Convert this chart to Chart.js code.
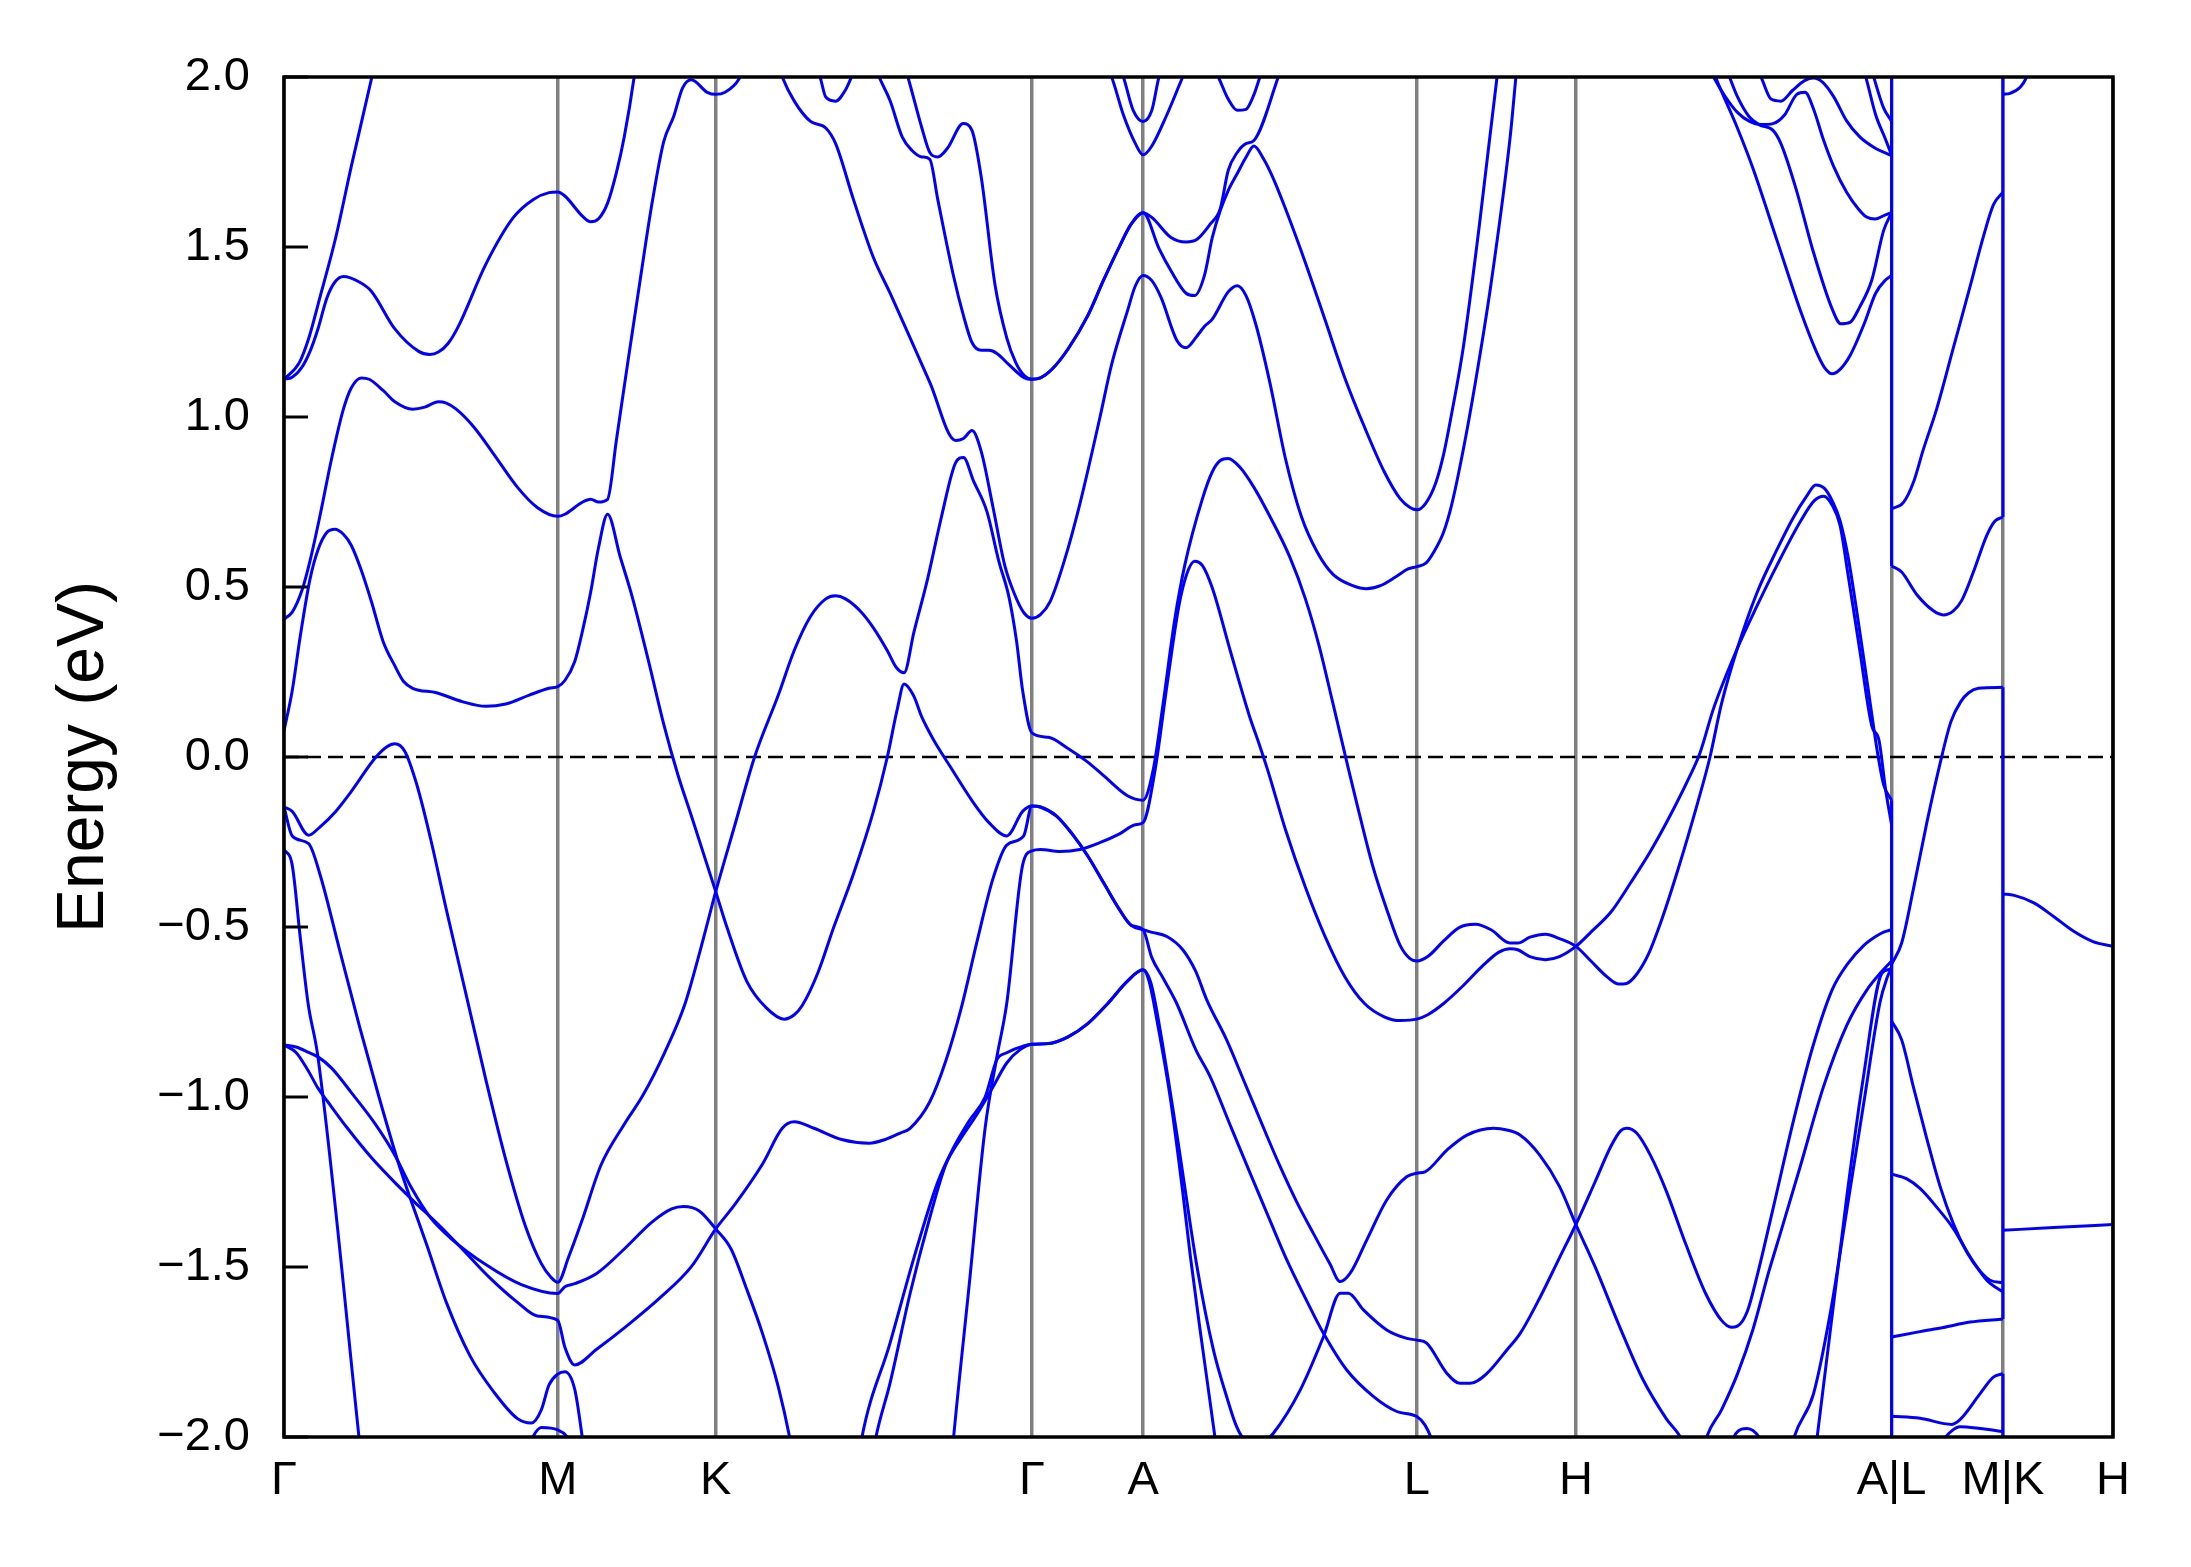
<!DOCTYPE html>
<html>
<head>
<meta charset="utf-8">
<script src="https://cdn.jsdelivr.net/npm/chart.js"></script>
<style>
  html, body { margin: 0; padding: 0; background: #ffffff; }
  canvas { display: block; }
</style>
</head>
<body>
<canvas id="c" width="2191" height="1567"></canvas>
<script>
// ---------- k-path (high-symmetry points) ----------
const kTicks  = [0, 1, 1.577, 2.732, 3.138, 4.138, 4.719, 5.872, 6.279, 6.681];
const kLabels = ['Γ', 'M', 'K', 'Γ', 'A', 'L', 'H', 'A|L', 'M|K', 'H'];
const energyTicks = [-2, -1.5, -1, -0.5, 0, 0.5, 1, 1.5, 2];
const fermiLevel = 0;

// ---------- bands: [k, E(eV)] ----------
const bandSteepGM = [[0,1.111],[0.056,1.160],[0.091,1.233],[0.131,1.351],[0.189,1.528],[0.246,1.738],[0.321,2.0],[0.34,2.07]];
const bandUpperGM = [[0,1.111],[0.030,1.117],[0.066,1.147],[0.095,1.193],[0.124,1.259],[0.157,1.351],[0.186,1.397],[0.217,1.413],[0.275,1.397],[0.319,1.370],[0.405,1.259],[0.492,1.193],[0.532,1.184],[0.564,1.191],[0.600,1.217],[0.636,1.265],[0.737,1.449],[0.838,1.587],[0.911,1.640],[0.968,1.660],[1.0,1.662],[1.026,1.650],[1.091,1.590],[1.120,1.574],[1.149,1.583],[1.182,1.629],[1.214,1.718],[1.243,1.824],[1.279,2.0],[1.29,2.07]];
const bandC = [[0,0.406],[0.030,0.426],[0.066,0.491],[0.095,0.577],[0.131,0.708],[0.174,0.878],[0.217,1.023],[0.246,1.086],[0.282,1.115],[0.311,1.111],[0.362,1.078],[0.405,1.045],[0.470,1.023],[0.514,1.029],[0.564,1.045],[0.593,1.041],[0.629,1.023],[0.694,0.970],[0.766,0.891],[0.853,0.793],[0.925,0.734],[1.0,0.708],[1.026,0.714],[1.091,0.750],[1.120,0.758],[1.149,0.750],[1.182,0.758],[1.214,0.931],[1.257,1.167],[1.301,1.403],[1.344,1.627],[1.387,1.810],[1.423,1.883],[1.456,1.968],[1.488,1.992],[1.546,1.955],[1.577,1.949],[1.611,1.955],[1.662,1.994],[1.69,2.05]];
const bandD = [[0,0.077],[0.030,0.195],[0.059,0.353],[0.095,0.523],[0.124,0.609],[0.157,0.661],[0.186,0.670],[0.217,0.655],[0.246,0.622],[0.282,0.550],[0.319,0.458],[0.362,0.340],[0.405,0.268],[0.437,0.222],[0.470,0.202],[0.557,0.189],[0.651,0.163],[0.737,0.149],[0.810,0.156],[0.896,0.182],[0.968,0.202],[1.0,0.207],[1.026,0.225],[1.062,0.281],[1.091,0.373],[1.120,0.484],[1.149,0.616],[1.182,0.714],[1.228,0.589],[1.272,0.471],[1.330,0.287],[1.387,0.097],[1.438,-0.050],[1.488,-0.173],[1.577,-0.396],[1.618,-0.501],[1.690,-0.659],[1.762,-0.738],[1.827,-0.771],[1.864,-0.758],[1.893,-0.731],[1.951,-0.633],[2.008,-0.501],[2.080,-0.344],[2.153,-0.160],[2.203,-0.003],[2.24,0.14],[2.265,0.215],[2.30,0.18],[2.330,0.117],[2.373,0.05],[2.431,-0.025],[2.518,-0.134],[2.575,-0.193],[2.640,-0.232],[2.698,-0.160],[2.732,-0.144],[2.763,-0.147],[2.821,-0.173],[2.879,-0.226],[2.936,-0.291],[2.994,-0.370],[3.052,-0.449],[3.095,-0.495],[3.138,-0.508],[3.167,-0.515],[3.225,-0.528],[3.283,-0.567],[3.330,-0.630],[3.371,-0.715],[3.442,-0.830],[3.505,-0.950],[3.586,-1.106],[3.639,-1.205],[3.700,-1.310],[3.760,-1.401],[3.820,-1.490],[3.858,-1.543],[3.894,-1.519],[3.955,-1.421],[4.028,-1.303],[4.102,-1.234],[4.138,-1.224],[4.168,-1.220],[4.248,-1.156],[4.321,-1.112],[4.418,-1.092],[4.467,-1.097],[4.515,-1.112],[4.587,-1.171],[4.659,-1.263],[4.719,-1.375],[4.789,-1.499],[4.876,-1.670],[4.962,-1.828],[5.049,-1.946],[5.107,-2.009],[5.13,-2.06]];
const bandTopValence = [[0,-0.147],[0.030,-0.160],[0.090,-0.230],[0.131,-0.206],[0.189,-0.160],[0.246,-0.101],[0.333,-0.003],[0.376,0.030],[0.405,0.039],[0.441,0.017],[0.485,-0.081],[0.535,-0.239],[0.593,-0.449],[0.665,-0.698],[0.737,-0.948],[0.810,-1.184],[0.882,-1.380],[0.940,-1.490],[0.975,-1.530],[1.0,-1.545],[1.04,-1.47],[1.09,-1.36],[1.158,-1.20],[1.243,-1.08],[1.311,-0.995],[1.39,-0.87],[1.464,-0.728],[1.52,-0.57],[1.577,-0.396],[1.647,-0.20],[1.719,0.0],[1.806,0.183],[1.864,0.314],[1.922,0.412],[1.979,0.465],[2.015,0.474],[2.051,0.465],[2.109,0.426],[2.153,0.380],[2.203,0.314],[2.236,0.264],[2.265,0.248],[2.301,0.367],[2.351,0.524],[2.402,0.708],[2.453,0.865],[2.482,0.881],[2.518,0.813],[2.568,0.721],[2.611,0.576],[2.648,0.471],[2.676,0.340],[2.698,0.196],[2.732,0.071],[2.792,0.058],[2.864,0.025],[2.936,-0.015],[2.994,-0.055],[3.081,-0.114],[3.138,-0.127],[3.175,-0.038],[3.211,0.156],[3.254,0.406],[3.290,0.563],[3.355,0.760],[3.391,0.839],[3.420,0.872],[3.449,0.878],[3.492,0.852],[3.543,0.793],[3.601,0.708],[3.673,0.590],[3.731,0.465],[3.781,0.327],[3.832,0.156],[3.889,-0.038],[3.918,-0.134],[3.976,-0.318],[4.034,-0.462],[4.077,-0.554],[4.113,-0.593],[4.138,-0.600],[4.178,-0.587],[4.236,-0.541],[4.294,-0.501],[4.352,-0.492],[4.409,-0.508],[4.478,-0.547],[4.507,-0.547],[4.551,-0.530],[4.608,-0.521],[4.659,-0.534],[4.719,-0.557],[4.774,-0.600],[4.832,-0.646],[4.876,-0.668],[4.904,-0.666],[4.941,-0.639],[4.984,-0.580],[5.034,-0.475],[5.092,-0.331],[5.164,-0.134],[5.208,-0.003],[5.251,0.157],[5.309,0.320],[5.381,0.484],[5.453,0.609],[5.511,0.701],[5.562,0.767],[5.595,0.800],[5.627,0.790],[5.655,0.754],[5.684,0.695],[5.713,0.590],[5.742,0.445],[5.785,0.209],[5.821,0.012],[5.843,-0.081],[5.872,-0.127]];
const bandSteepG = [[0,-0.272],[0.030,-0.318],[0.059,-0.528],[0.088,-0.725],[0.124,-0.882],[0.275,-2.009],[0.297,-2.18]];
const bandB = [[0,-0.147],[0.030,-0.232],[0.090,-0.255],[0.131,-0.344],[0.203,-0.567],[0.275,-0.790],[0.347,-1.000],[0.419,-1.197],[0.463,-1.302],[0.521,-1.434],[0.593,-1.604],[0.680,-1.762],[0.766,-1.867],[0.853,-1.946],[0.903,-1.959],[0.940,-1.920],[0.968,-1.847],[1.0,-1.815],[1.026,-1.808],[1.062,-1.860],[1.091,-2.009],[1.120,-2.18]];
const bandB2 = [[0.88,-2.06],[0.903,-2.009],[0.940,-1.972],[1.0,-1.979],[1.033,-1.998],[1.062,-2.04]];
const bandE1 = [[0,-0.847],[0.044,-0.853],[0.090,-0.869],[0.124,-0.882],[0.174,-0.915],[0.246,-0.987],[0.333,-1.079],[0.405,-1.171],[0.463,-1.263],[0.535,-1.355],[0.607,-1.414],[0.737,-1.493],[0.867,-1.552],[1.0,-1.578],[1.026,-1.558],[1.062,-1.549],[1.142,-1.519],[1.243,-1.447],[1.344,-1.368],[1.416,-1.329],[1.459,-1.322],[1.517,-1.335],[1.577,-1.388],[1.633,-1.447],[1.690,-1.565],[1.748,-1.696],[1.806,-1.854],[1.849,-2.009],[1.864,-2.08]];
const bandE2 = [[0,-0.847],[0.044,-0.869],[0.088,-0.922],[0.124,-0.974],[0.160,-1.014],[0.232,-1.092],[0.319,-1.178],[0.419,-1.263],[0.477,-1.309],[0.564,-1.375],[0.651,-1.447],[0.752,-1.532],[0.853,-1.604],[0.925,-1.644],[1.0,-1.657],[1.026,-1.736],[1.062,-1.788],[1.142,-1.742],[1.257,-1.670],[1.373,-1.591],[1.488,-1.499],[1.577,-1.388],[1.647,-1.316],[1.748,-1.197],[1.820,-1.092],[1.864,-1.073],[1.936,-1.092],[2.037,-1.125],[2.138,-1.136],[2.196,-1.125],[2.251,-1.106],[2.287,-1.092],[2.359,-1.014],[2.417,-0.895],[2.474,-0.738],[2.532,-0.541],[2.590,-0.357],[2.640,-0.259],[2.702,-0.232],[2.732,-0.144],[2.763,-0.147],[2.821,-0.173],[2.879,-0.226],[2.936,-0.291],[2.994,-0.370],[3.052,-0.449],[3.095,-0.495],[3.138,-0.508],[3.170,-0.590],[3.211,-0.650],[3.261,-0.725],[3.330,-0.860],[3.383,-0.940],[3.460,-1.090],[3.529,-1.224],[3.600,-1.360],[3.663,-1.479],[3.730,-1.590],[3.797,-1.695],[3.882,-1.803],[3.980,-1.881],[4.065,-1.925],[4.138,-1.940],[4.168,-1.965],[4.193,-2.009],[4.21,-2.06]];
const bandGammaSteep = [[2.43,-2.15],[2.445,-2.009],[2.503,-1.552],[2.561,-1.092],[2.604,-0.882],[2.640,-0.725],[2.698,-0.318],[2.732,-0.276],[2.763,-0.272],[2.835,-0.278],[2.907,-0.272],[2.980,-0.252],[3.052,-0.226],[3.110,-0.199],[3.138,-0.193],[3.182,-0.038],[3.225,0.209],[3.269,0.445],[3.297,0.537],[3.326,0.576],[3.355,0.563],[3.391,0.497],[3.456,0.314],[3.528,0.117],[3.557,0.05],[3.593,-0.038],[3.658,-0.213],[3.731,-0.383],[3.803,-0.528],[3.875,-0.646],[3.947,-0.725],[4.019,-0.764],[4.077,-0.775],[4.138,-0.771],[4.178,-0.758],[4.236,-0.725],[4.308,-0.672],[4.380,-0.613],[4.438,-0.574],[4.478,-0.564],[4.507,-0.567],[4.551,-0.587],[4.608,-0.596],[4.659,-0.587],[4.719,-0.557],[4.774,-0.515],[4.847,-0.456],[4.919,-0.370],[4.991,-0.278],[5.063,-0.173],[5.136,-0.055],[5.172,0.011],[5.222,0.143],[5.309,0.320],[5.381,0.445],[5.453,0.563],[5.540,0.694],[5.590,0.754],[5.624,0.767],[5.655,0.741],[5.684,0.681],[5.713,0.537],[5.756,0.314],[5.800,0.091],[5.826,0.05],[5.850,-0.094],[5.872,-0.199]];
const bandM1 = [[2.10,-2.06],[2.109,-2.009],[2.214,-1.723],[2.301,-1.473],[2.388,-1.250],[2.445,-1.15],[2.503,-1.07],[2.561,-1.00],[2.604,-0.89],[2.640,-0.87],[2.705,-0.849],[2.732,-0.845],[2.792,-0.843],[2.864,-0.823],[2.936,-0.784],[3.009,-0.725],[3.081,-0.659],[3.138,-0.626],[3.160,-0.66],[3.190,-0.78],[3.237,-1.00],[3.283,-1.28],[3.311,-1.47],[3.348,-1.695],[3.402,-2.009],[3.41,-2.06]];
const bandM2 = [[2.15,-2.06],[2.160,-2.009],[2.214,-1.841],[2.287,-1.578],[2.359,-1.355],[2.417,-1.20],[2.474,-1.12],[2.532,-1.05],[2.590,-0.97],[2.640,-0.90],[2.690,-0.86],[2.732,-0.845],[2.792,-0.843],[2.864,-0.823],[2.936,-0.784],[3.009,-0.725],[3.081,-0.659],[3.138,-0.626],[3.165,-0.66],[3.182,-0.72],[3.261,-1.107],[3.335,-1.499],[3.395,-1.744],[3.447,-1.891],[3.475,-1.96],[3.50,-2.0],[3.554,-2.03],[3.60,-2.0],[3.614,-1.989],[3.712,-1.862],[3.797,-1.705],[3.858,-1.577],[3.888,-1.577],[3.943,-1.626],[4.028,-1.685],[4.102,-1.710],[4.138,-1.715],[4.174,-1.724],[4.248,-1.813],[4.296,-1.842],[4.333,-1.842],[4.394,-1.813],[4.467,-1.744],[4.515,-1.696],[4.587,-1.591],[4.659,-1.473],[4.719,-1.375],[4.789,-1.250],[4.847,-1.145],[4.883,-1.099],[4.904,-1.092],[4.941,-1.106],[4.991,-1.171],[5.049,-1.276],[5.121,-1.434],[5.193,-1.578],[5.251,-1.657],[5.287,-1.677],[5.309,-1.674],[5.345,-1.631],[5.381,-1.526],[5.439,-1.329],[5.511,-1.079],[5.583,-0.856],[5.655,-0.685],[5.713,-0.607],[5.771,-0.554],[5.814,-0.528],[5.843,-0.515],[5.872,-0.508]];
const bandF1 = [[1.80,2.05],[1.820,2.0],[1.864,1.929],[1.922,1.870],[1.979,1.850],[2.015,1.804],[2.080,1.640],[2.153,1.469],[2.214,1.364],[2.287,1.233],[2.359,1.102],[2.453,0.931],[2.482,0.937],[2.513,0.960],[2.547,0.898],[2.590,0.734],[2.633,0.563],[2.669,0.478],[2.702,0.425],[2.732,0.408],[2.763,0.419],[2.799,0.458],[2.850,0.576],[2.908,0.747],[2.980,0.997],[3.023,1.154],[3.081,1.312],[3.110,1.386],[3.138,1.416],[3.170,1.401],[3.204,1.351],[3.261,1.226],[3.295,1.204],[3.334,1.237],[3.362,1.266],[3.391,1.288],[3.449,1.368],[3.482,1.386],[3.514,1.357],[3.550,1.272],[3.601,1.102],[3.658,0.878],[3.716,0.708],[3.774,0.603],[3.832,0.537],[3.904,0.504],[3.954,0.495],[4.005,0.504],[4.063,0.531],[4.106,0.553],[4.138,0.560],[4.171,0.570],[4.200,0.603],[4.236,0.662],[4.265,0.741],[4.308,0.905],[4.352,1.102],[4.409,1.391],[4.479,1.824],[4.50,2.0],[4.52,2.15]];
const bandH1 = [[2.16,2.03],[2.174,2.0],[2.214,1.93],[2.258,1.824],[2.294,1.784],[2.330,1.765],[2.359,1.758],[2.388,1.640],[2.445,1.417],[2.482,1.298],[2.513,1.219],[2.547,1.196],[2.575,1.196],[2.604,1.187],[2.648,1.154],[2.705,1.115],[2.732,1.111],[2.763,1.115],[2.806,1.141],[2.864,1.200],[2.936,1.298],[2.994,1.403],[3.052,1.502],[3.095,1.568],[3.138,1.601],[3.170,1.587],[3.240,1.528],[3.295,1.515],[3.334,1.522],[3.384,1.568],[3.420,1.613],[3.449,1.725],[3.482,1.778],[3.514,1.804],[3.543,1.813],[3.632,2.0],[3.658,2.06]];
const bandH2 = [[2.26,2.05],[2.279,2.0],[2.330,1.850],[2.359,1.778],[2.388,1.765],[2.424,1.791],[2.481,1.863],[2.513,1.843],[2.547,1.705],[2.597,1.390],[2.640,1.233],[2.673,1.160],[2.705,1.121],[2.732,1.111],[2.763,1.115],[2.806,1.141],[2.864,1.200],[2.936,1.298],[2.994,1.403],[3.052,1.502],[3.095,1.568],[3.138,1.601],[3.196,1.496],[3.240,1.430],[3.295,1.364],[3.326,1.357],[3.362,1.416],[3.391,1.528],[3.420,1.607],[3.449,1.666],[3.482,1.716],[3.514,1.764],[3.543,1.797],[3.579,1.758],[3.615,1.699],[3.658,1.613],[3.730,1.456],[3.803,1.285],[3.875,1.115],[3.947,0.970],[4.019,0.839],[4.077,0.760],[4.113,0.734],[4.138,0.727],[4.171,0.747],[4.207,0.806],[4.236,0.891],[4.265,1.009],[4.308,1.206],[4.366,1.561],[4.431,2.0],[4.453,2.13]];
const bandV0 = [[1.94,2.03],[1.958,2.0],[1.979,1.941],[2.015,1.929],[2.051,1.962],[2.073,2.0],[2.09,2.03]];
const bandV1 = [[3.01,2.02],[3.023,2.0],[3.066,1.889],[3.110,1.804],[3.138,1.771],[3.170,1.797],[3.225,1.889],[3.283,2.0],[3.30,2.03]];
const bandV2 = [[3.055,2.02],[3.066,2.0],[3.102,1.902],[3.138,1.869],[3.170,1.902],[3.196,2.0],[3.21,2.03]];
const bandV3 = [[3.40,2.02],[3.413,2.0],[3.449,1.935],[3.482,1.902],[3.514,1.905],[3.543,1.948],[3.565,2.0],[3.575,2.02]];
const bandT1 = [[5.21,2.02],[5.222,2.0],[5.265,1.942],[5.309,1.896],[5.352,1.870],[5.395,1.860],[5.439,1.863],[5.482,1.889],[5.526,1.949],[5.556,1.955],[5.587,1.906],[5.623,1.816],[5.660,1.738],[5.708,1.661],[5.751,1.612],[5.781,1.588],[5.812,1.582],[5.848,1.594],[5.872,1.601]];
const bandT2 = [[5.27,2.02],[5.280,2.0],[5.309,1.942],[5.352,1.883],[5.388,1.860],[5.439,1.843],[5.468,1.804],[5.525,1.666],[5.583,1.495],[5.655,1.318],[5.687,1.274],[5.720,1.278],[5.756,1.324],[5.800,1.403],[5.843,1.548],[5.872,1.601]];
const bandT3 = [[5.22,2.02],[5.229,2.0],[5.309,1.850],[5.366,1.731],[5.453,1.521],[5.540,1.311],[5.597,1.193],[5.626,1.147],[5.655,1.127],[5.684,1.140],[5.720,1.180],[5.771,1.272],[5.814,1.364],[5.850,1.403],[5.872,1.416]];
const bandT4 = [[5.38,2.02],[5.395,2.0],[5.432,1.935],[5.468,1.929],[5.511,1.961],[5.556,1.99],[5.587,1.997],[5.620,1.985],[5.660,1.943],[5.708,1.871],[5.757,1.823],[5.810,1.792],[5.872,1.769]];
const bandT5 = [[5.77,2.02],[5.778,2.0],[5.814,1.889],[5.850,1.817],[5.872,1.771]];
const bandT6 = [[5.80,2.02],[5.807,2.0],[5.843,1.909],[5.872,1.870]];
const bandBump = [[5.27,-2.06],[5.303,-1.99],[5.345,-1.975],[5.395,-2.009],[5.42,-2.06]];
const bandHA1 = [[5.18,-2.06],[5.193,-2.009],[5.251,-1.92],[5.309,-1.815],[5.366,-1.683],[5.424,-1.513],[5.470,-1.39],[5.538,-1.206],[5.623,-0.971],[5.708,-0.790],[5.787,-0.679],[5.836,-0.631],[5.872,-0.60]];
const bandHA2 = [[5.50,-2.06],[5.513,-2.009],[5.587,-1.873],[5.648,-1.637],[5.709,-1.331],[5.769,-1.026],[5.830,-0.721],[5.855,-0.651],[5.872,-0.62]];
const bandHA3 = [[5.59,-2.06],[5.599,-2.009],[5.709,-1.290],[5.769,-0.943],[5.836,-0.637],[5.866,-0.624],[5.872,-0.62]];
const bandLM1 = [[5.872,0.730],[5.915,0.748],[5.952,0.808],[5.988,0.904],[6.037,1.024],[6.098,1.204],[6.159,1.384],[6.207,1.529],[6.244,1.624],[6.279,1.661]];
const bandLM2 = [[5.872,0.562],[5.909,0.544],[5.964,0.478],[6.025,0.430],[6.061,0.418],[6.098,0.430],[6.128,0.460],[6.171,0.544],[6.220,0.652],[6.250,0.694],[6.279,0.706]];
const bandLM3 = [[5.872,-0.61],[5.909,-0.547],[5.952,-0.388],[6.001,-0.193],[6.049,-0.02],[6.089,0.104],[6.125,0.163],[6.154,0.189],[6.190,0.202],[6.279,0.205]];
const bandLM4 = [[5.872,-0.776],[5.909,-0.832],[5.952,-0.971],[6.001,-1.123],[6.049,-1.262],[6.098,-1.373],[6.147,-1.456],[6.195,-1.512],[6.232,-1.539],[6.279,-1.546]];
const bandLM5 = [[5.872,-1.227],[5.928,-1.241],[5.976,-1.269],[6.037,-1.324],[6.098,-1.387],[6.159,-1.470],[6.220,-1.539],[6.279,-1.574]];
const bandLM6 = [[5.872,-1.706],[5.976,-1.690],[6.061,-1.678],[6.159,-1.662],[6.279,-1.653]];
const bandLM7 = [[5.872,-1.939],[5.976,-1.945],[6.092,-1.963],[6.122,-1.949],[6.195,-1.873],[6.244,-1.824],[6.279,-1.814]];
const bandLM8 = [[6.04,-2.04],[6.061,-2.009],[6.092,-1.982],[6.122,-1.970],[6.195,-1.975],[6.279,-1.984]];
const bandKH1 = [[6.279,1.949],[6.305,1.952],[6.342,1.97],[6.366,2.0],[6.38,2.03]];
const bandKH2 = [[6.279,-0.403],[6.320,-0.407],[6.392,-0.429],[6.464,-0.469],[6.536,-0.512],[6.608,-0.543],[6.681,-0.557]];
const bandKH3 = [[6.279,-1.392],[6.464,-1.384],[6.681,-1.375]];

// band discontinuities drawn as vertical jumps at A|L and M|K: [E_from, E_to]
const jumpAL = [[2.1, 0.562], [-0.127, -2.1]];
const jumpMK = [[2.1, 0.706], [0.205, -1.653], [-1.814, -2.1]];

const bands = [bandSteepGM, bandUpperGM, bandC, bandD, bandTopValence, bandSteepG, bandB, bandB2,
  bandE1, bandE2, bandGammaSteep, bandM1, bandM2, bandF1, bandH1, bandH2, bandV0, bandV1, bandV2, bandV3,
  bandT1, bandT2, bandT3, bandT4, bandT5, bandT6, bandBump, bandHA1, bandHA2, bandHA3,
  bandLM1, bandLM2, bandLM3, bandLM4, bandLM5, bandLM6, bandLM7, bandLM8, bandKH1, bandKH2, bandKH3];

// ---------- chart ----------
const BLUE = '#0000ff';
const FONT = "'Liberation Sans', Arial, Helvetica, sans-serif";
Chart.defaults.font.family = FONT;
Chart.defaults.color = '#000000';

const datasets = [];
bands.forEach(b => datasets.push({
  data: b.map(([x, y]) => ({x, y})),
  borderColor: BLUE, borderWidth: 3, pointRadius: 0,
  cubicInterpolationMode: 'monotone', fill: false, clip: 0, order: 0
}));
const addJumps = (k, list) => list.forEach(([a, b]) => datasets.push({
  data: [{x: k, y: a}, {x: k, y: b}],
  borderColor: BLUE, borderWidth: 3, pointRadius: 0, tension: 0, fill: false, clip: 0, order: 0
}));
addJumps(kTicks[7], jumpAL);
addJumps(kTicks[8], jumpMK);
datasets.push({
  data: [{x: kTicks[0], y: fermiLevel}, {x: kTicks[kTicks.length - 1], y: fermiLevel}],
  borderColor: '#000000', borderWidth: 2.6, borderDash: [15, 7], pointRadius: 0, tension: 0, fill: false, clip: 0, order: 1
});

const framePlugin = {
  id: 'frame',
  beforeDraw(chart) {
    const ctx = chart.ctx;
    ctx.save();
    ctx.fillStyle = '#ffffff';
    ctx.fillRect(0, 0, chart.width, chart.height);
    ctx.restore();
  },
  afterDraw(chart) {
    const {ctx, chartArea: {left, right, top, bottom}, scales: {y}} = chart;
    ctx.save();
    ctx.strokeStyle = '#000000';
    ctx.lineWidth = 3;
    energyTicks.forEach(v => {
      const py = y.getPixelForValue(v);
      ctx.beginPath();
      ctx.moveTo(left, py);
      ctx.lineTo(left + 24, py);
      ctx.stroke();
    });
    ctx.lineWidth = 3.5;
    ctx.strokeRect(left, top, right - left, bottom - top);
    ctx.restore();
  }
};

new Chart(document.getElementById('c'), {
  type: 'line',
  data: { datasets },
  options: {
    responsive: false,
    animation: false,
    devicePixelRatio: 1,
    layout: { padding: { top: 77, right: 78, bottom: 0, left: 0 } },
    plugins: { legend: { display: false }, tooltip: { enabled: false } },
    scales: {
      x: {
        type: 'linear',
        min: kTicks[0],
        max: kTicks[kTicks.length - 1],
        afterBuildTicks: axis => { axis.ticks = kTicks.map(v => ({ value: v })); },
        afterFit: scale => { scale.height = 130; },
        grid: { display: true, drawTicks: false, drawOnChartArea: true, color: '#808080', lineWidth: 3.5 },
        border: { display: false },
        ticks: {
          autoSkip: false, maxRotation: 0, minRotation: 0, padding: 16,
          font: { size: 47, family: FONT }, color: '#000000',
          callback: (value, index) => kLabels[index]
        }
      },
      y: {
        type: 'linear',
        min: -2, max: 2,
        afterBuildTicks: axis => { axis.ticks = energyTicks.map(v => ({ value: v })); },
        afterFit: scale => { scale.width = 284; },
        grid: { display: false, drawTicks: false },
        border: { display: false },
        ticks: {
          padding: 34,
          font: { size: 47, family: FONT }, color: '#000000',
          callback: v => (v < 0 ? '\u2212' : '') + Math.abs(v).toFixed(1)
        },
        title: {
          display: true, text: 'Energy (eV)', color: '#000000',
          font: { size: 66, family: FONT },
          padding: { top: 45, bottom: 0 }
        }
      }
    }
  },
  plugins: [framePlugin]
});
</script>
</body>
</html>
